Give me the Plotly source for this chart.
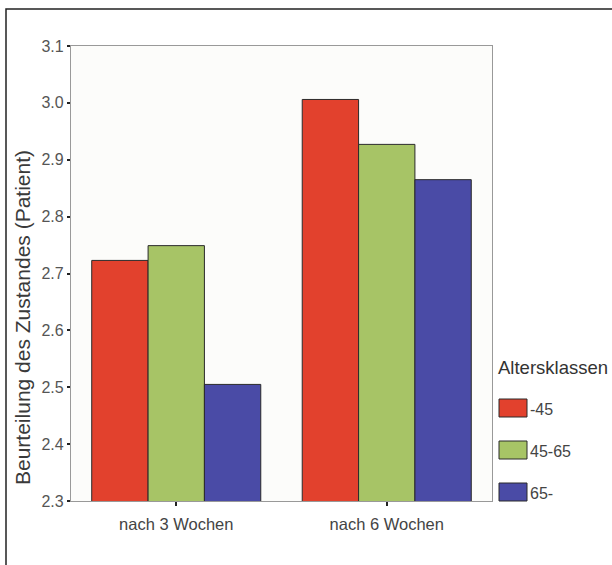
import plotly.graph_objects as go

categories = ["nach 3 Wochen", "nach 6 Wochen"]
series_names = ["-45", "45-65", "65-"]
values_45 = [2.723, 3.006]
values_45_65 = [2.749, 2.927]
values_65 = [2.505, 2.865]
colors = ["#e2412d", "#a7c466", "#4a4ba6"]
y_ticks = [2.3, 2.4, 2.5, 2.6, 2.7, 2.8, 2.9, 3.0, 3.1]
y_ticklabels = ["2.3", "2.4", "2.5", "2.6", "2.7", "2.8", "2.9", "3.0", "3.1"]
legend_title = "Altersklassen"
y_title = "Beurteilung des Zustandes (Patient)"

W, H = 612, 565
L, R, T, B = 71, 120, 46, 64
PW, PH = W - L - R, H - T - B

def px(x):
    return (x - L) / PW

def py(y):
    return (H - B - y) / PH

FONT = "Liberation Sans, Arial, sans-serif"

fig = go.Figure()
for name, vals, col in zip(series_names, [values_45, values_45_65, values_65], colors):
    fig.add_trace(go.Bar(
        x=categories, y=vals, name=name,
        marker=dict(color=col, line=dict(color="#2a2a2a", width=1)),
        showlegend=False,
    ))

shapes = [
    dict(type="rect", xref="paper", yref="paper",
         x0=px(6), x1=px(700), y0=py(9), y1=py(700),
         line=dict(color="#222222", width=1.5), fillcolor="rgba(0,0,0,0)", layer="below"),
]
annotations = [
    dict(text=y_title, xref="paper", yref="paper", x=px(22), y=py(318),
         xanchor="center", yanchor="middle", textangle=-90, showarrow=False,
         font=dict(family=FONT, size=21, color="#3a3a3a")),
    dict(text=legend_title, xref="paper", yref="paper", x=px(496), y=py(368),
         xanchor="left", yanchor="middle", showarrow=False,
         font=dict(family=FONT, size=18.5, color="#333333")),
]
for i, (name, col) in enumerate(zip(series_names, colors)):
    top = 399 + 42 * i
    shapes.append(dict(type="rect", xref="paper", yref="paper",
                       x0=px(499), x1=px(527), y0=py(top), y1=py(top + 18),
                       fillcolor=col, line=dict(color="#2a2a2a", width=1)))
    annotations.append(dict(text=name, xref="paper", yref="paper",
                            x=px(528), y=py(top + 10), xanchor="left", yanchor="middle",
                            showarrow=False,
                            font=dict(family=FONT, size=16, color="#444444")))

fig.update_layout(
    width=W, height=H,
    margin=dict(l=L, r=R, t=T, b=B, pad=0),
    paper_bgcolor="#ffffff",
    plot_bgcolor="#fcfcfa",
    barmode="group",
    bargap=0.197,
    bargroupgap=0,
    shapes=shapes,
    annotations=annotations,
    font=dict(family=FONT, size=16, color="#555555"),
    xaxis=dict(
        showline=True, linecolor="#999999", linewidth=1.2, mirror=True,
        ticks="outside", ticklen=4, tickwidth=2, tickcolor="#222222",
        tickfont=dict(family=FONT, size=16.5, color="#444444"),
        ticklabelstandoff=4, showgrid=False,
    ),
    yaxis=dict(
        range=[2.3, 3.1], tickvals=y_ticks, ticktext=y_ticklabels,
        showline=True, linecolor="#999999", linewidth=1.2, mirror=True,
        ticks="outside", ticklen=3, tickwidth=2, tickcolor="#222222",
        tickfont=dict(family=FONT, size=16, color="#555555"),
        showgrid=False, zeroline=False,
    ),
)

fig.write_html("out.html", config={"displayModeBar": False},
               post_script="document.body.style.margin='0px';document.body.style.padding='0px';")
